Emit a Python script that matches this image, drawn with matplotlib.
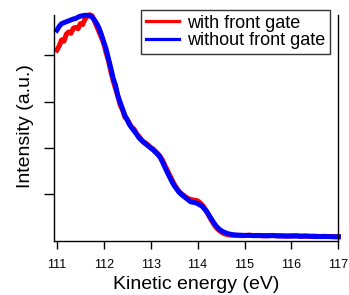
import matplotlib
matplotlib.use("Agg")
import matplotlib.pyplot as plt

plt.rcParams['font.family'] = ['Liberation Sans', 'DejaVu Sans']

energy = [111.00, 111.05, 111.10, 111.15, 111.20, 111.25, 111.30, 111.35, 111.40, 111.45,
          111.50, 111.55, 111.60, 111.65, 111.70, 111.75, 111.80, 111.85, 111.90, 111.95,
          112.00, 112.05, 112.10, 112.15, 112.20, 112.25, 112.30, 112.35, 112.40, 112.45,
          112.50, 112.55, 112.60, 112.65, 112.70, 112.75, 112.80, 112.85, 112.90, 112.95,
          113.00, 113.05, 113.10, 113.15, 113.20, 113.25, 113.30, 113.35, 113.40, 113.45,
          113.50, 113.55, 113.60, 113.65, 113.70, 113.75, 113.80, 113.85, 113.90, 113.95,
          114.00, 114.05, 114.10, 114.15, 114.20, 114.25, 114.30, 114.35, 114.40, 114.45,
          114.50, 114.55, 114.60, 114.65, 114.70, 114.75, 114.80, 114.85, 114.90,
          115.0, 115.1, 115.2, 115.3, 115.4, 115.5, 115.6, 115.7, 115.8, 115.9,
          116.0, 116.1, 116.2, 116.3, 116.4, 116.5, 116.6, 116.7, 116.8, 116.9, 117.0]

with_gate = [4.11, 4.20, 4.33, 4.30, 4.45, 4.50, 4.47, 4.58, 4.60, 4.57,
             4.68, 4.66, 4.78, 4.84, 4.87, 4.85, 4.74, 4.62, 4.50, 4.38,
             4.25, 4.05, 3.88, 3.65, 3.45, 3.28, 3.12, 2.92, 2.82, 2.66,
             2.62, 2.52, 2.44, 2.40, 2.30, 2.25, 2.18, 2.13, 2.10, 2.06,
             2.01, 1.98, 1.93, 1.88, 1.82, 1.74, 1.63, 1.53, 1.42, 1.32,
             1.22, 1.14, 1.07, 1.02, 0.98, 0.94, 0.91, 0.89, 0.88, 0.87,
             0.86, 0.82, 0.77, 0.70, 0.62, 0.52, 0.43, 0.35, 0.28, 0.23,
             0.19, 0.16, 0.14, 0.13, 0.12, 0.12, 0.115, 0.115, 0.11,
             0.11, 0.12, 0.11, 0.115, 0.105, 0.11, 0.115, 0.105, 0.11, 0.10,
             0.105, 0.11, 0.10, 0.10, 0.095, 0.10, 0.09, 0.095, 0.09, 0.09, 0.085]

without_gate = [4.54, 4.62, 4.68, 4.70, 4.72, 4.74, 4.76, 4.78, 4.79, 4.82,
                4.84, 4.85, 4.86, 4.86, 4.85, 4.82, 4.76, 4.68, 4.58, 4.44,
                4.28, 4.13, 3.92, 3.72, 3.50, 3.35, 3.12, 2.98, 2.84, 2.70,
                2.60, 2.50, 2.43, 2.36, 2.30, 2.22, 2.17, 2.12, 2.08, 2.04,
                2.00, 1.96, 1.91, 1.86, 1.80, 1.70, 1.59, 1.48, 1.38, 1.28,
                1.19, 1.12, 1.05, 1.00, 0.96, 0.92, 0.88, 0.84, 0.83, 0.82,
                0.80, 0.77, 0.74, 0.68, 0.62, 0.54, 0.46, 0.38, 0.31, 0.26,
                0.22, 0.19, 0.17, 0.15, 0.14, 0.13, 0.125, 0.12, 0.12,
                0.115, 0.115, 0.11, 0.11, 0.11, 0.105, 0.11, 0.105, 0.10, 0.10,
                0.10, 0.10, 0.095, 0.10, 0.095, 0.09, 0.09, 0.09, 0.09, 0.085, 0.085]

xticks = [111, 112, 113, 114, 115, 116, 117]
yticks = [1, 2, 3, 4]

fig = plt.figure(figsize=(3.49, 2.95), dpi=100)
ax = fig.add_axes([0.1556, 0.184, 0.8138, 0.765])

ax.plot(energy, with_gate, color='#ff0000', lw=3.6, label='with front gate', clip_on=False)
ax.plot(energy, without_gate, color='#0000ff', lw=3.6, label='without front gate', clip_on=False)

ax.set_xlim(110.945, 117.0)
ax.set_ylim(0, 4.865)
ax.set_xticks(xticks)
ax.set_xticklabels([str(t) for t in xticks], fontsize=9)
ax.set_yticks(yticks)
ax.set_yticklabels([])
ax.tick_params(axis='y', direction='out', length=7, width=1, color='black')
ax.tick_params(axis='x', direction='out', length=5.5, width=1, color='black', pad=8)
ax.spines['top'].set_visible(False)
for s in ['left', 'bottom', 'right']:
    ax.spines[s].set_linewidth(1)

ax.set_xlabel('Kinetic energy (eV)', fontsize=14, labelpad=3)
ax.set_ylabel('Intensity (a.u.)', fontsize=14)
ax.yaxis.set_label_coords(-0.071, 0.51)

leg = ax.legend(loc='upper right', bbox_to_anchor=(330/349, 1 - 10/295),
                bbox_transform=fig.transFigure, borderaxespad=0, fontsize=13,
                frameon=True, fancybox=False, handlelength=1.85, handletextpad=0.45,
                borderpad=0.25, labelspacing=0.05)
leg.get_frame().set_edgecolor('black')
leg.get_frame().set_linewidth(1)
for ln in leg.get_lines():
    ln.set_linewidth(2.3)

fig.savefig('out.png', dpi=100)
